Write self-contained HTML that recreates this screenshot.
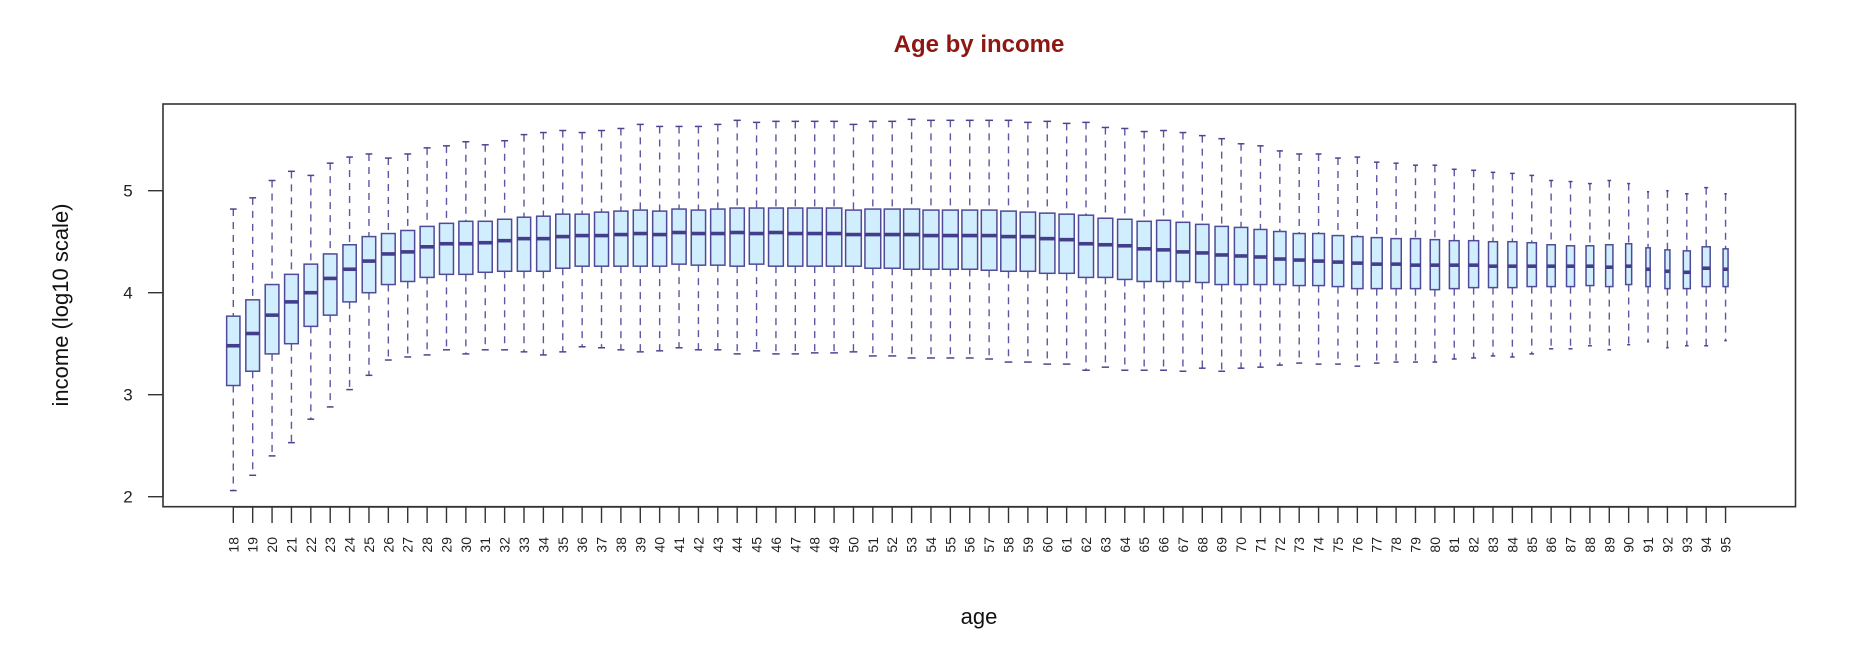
<!DOCTYPE html>
<html><head><meta charset="utf-8"><style>
html,body{margin:0;padding:0;background:#fff;}
svg{display:block;font-family:"Liberation Sans",Arial,sans-serif;}
</style></head><body>
<svg id="chart" width="1856" height="652" viewBox="0 0 1856 652" xmlns="http://www.w3.org/2000/svg">
<text x="979" y="52" text-anchor="middle" font-size="24" font-weight="bold" fill="#8e1713">Age by income</text>
<rect x="163" y="104" width="1632.5" height="402.7" fill="none" stroke="#333" stroke-width="1.6"/>
<text transform="translate(68,305) rotate(-90)" text-anchor="middle" font-size="22" fill="#111">income (log10 scale)</text>
<text x="979" y="624" text-anchor="middle" font-size="22" fill="#111">age</text>
<g id="yaxis"></g>
<g id="xaxis"></g>
<g id="boxes"></g>
</svg>
<script>
const ages = [];
for (let a = 18; a <= 95; a++) ages.push(a);
const whiskerHigh = [4.82,4.93,5.10,5.19,5.15,5.27,5.33,5.36,5.32,5.36,5.42,5.44,5.48,5.45,5.49,
5.55,5.57,5.59,5.57,5.59,5.61,5.65,5.63,5.63,5.63,5.65,5.69,5.67,5.68,5.68,5.68,5.68,
5.65,5.68,5.68,5.70,5.69,5.69,5.69,5.69,5.69,5.67,5.68,5.66,5.67,5.62,5.61,5.58,5.59,5.57,
5.54,5.51,5.46,5.44,5.39,5.36,5.36,5.32,5.33,5.28,5.27,5.25,5.25,5.21,5.20,
5.18,5.17,5.15,5.10,5.09,5.07,5.10,5.07,4.99,5.00,4.97,5.03,4.97];
const q3 = [3.77,3.93,4.08,4.18,4.28,4.38,4.47,4.55,4.58,4.61,4.65,4.68,4.70,4.70,4.72,
4.74,4.75,4.77,4.77,4.79,4.80,4.81,4.80,4.82,4.81,4.82,4.83,4.83,4.83,4.83,4.83,4.83,
4.81,4.82,4.82,4.82,4.81,4.81,4.81,4.81,4.80,4.79,4.78,4.77,4.76,4.73,4.72,4.70,4.71,4.69,
4.67,4.65,4.64,4.62,4.60,4.58,4.58,4.56,4.55,4.54,4.53,4.53,4.52,4.51,4.51,
4.50,4.50,4.49,4.47,4.46,4.46,4.47,4.48,4.44,4.42,4.41,4.45,4.43];
const medians = [3.48,3.60,3.78,3.91,4.00,4.14,4.23,4.31,4.38,4.40,4.45,4.48,4.48,4.49,4.51,
4.53,4.53,4.55,4.56,4.56,4.57,4.58,4.57,4.59,4.58,4.58,4.59,4.58,4.59,4.58,4.58,4.58,
4.57,4.57,4.57,4.57,4.56,4.56,4.56,4.56,4.55,4.55,4.53,4.52,4.48,4.47,4.46,4.43,4.42,4.40,
4.39,4.37,4.36,4.35,4.33,4.32,4.31,4.30,4.29,4.28,4.28,4.27,4.27,4.27,4.27,
4.26,4.26,4.26,4.26,4.26,4.26,4.25,4.26,4.23,4.21,4.20,4.24,4.23];
const q1 = [3.09,3.23,3.40,3.50,3.67,3.78,3.91,4.00,4.08,4.11,4.15,4.18,4.18,4.20,4.21,
4.21,4.21,4.24,4.26,4.26,4.26,4.26,4.26,4.28,4.27,4.27,4.26,4.28,4.26,4.26,4.26,4.26,
4.26,4.24,4.24,4.23,4.23,4.23,4.23,4.22,4.21,4.21,4.19,4.19,4.15,4.15,4.13,4.11,4.11,4.11,
4.10,4.08,4.08,4.08,4.08,4.07,4.07,4.06,4.04,4.04,4.04,4.04,4.03,4.04,4.05,
4.05,4.05,4.06,4.06,4.06,4.07,4.06,4.08,4.06,4.04,4.04,4.06,4.06];
const whiskerLow = [2.06,2.21,2.40,2.53,2.76,2.88,3.05,3.19,3.34,3.37,3.39,3.44,3.40,3.44,3.44,
3.42,3.39,3.42,3.47,3.46,3.44,3.42,3.43,3.46,3.44,3.44,3.40,3.43,3.40,3.40,3.41,3.41,
3.42,3.38,3.38,3.36,3.36,3.36,3.36,3.35,3.32,3.32,3.30,3.30,3.24,3.27,3.24,3.24,3.24,3.23,
3.26,3.23,3.26,3.27,3.29,3.31,3.30,3.30,3.28,3.31,3.32,3.32,3.32,3.35,3.36,
3.38,3.37,3.40,3.45,3.45,3.48,3.44,3.49,3.52,3.46,3.48,3.48,3.53];
const groupSize = [13.3,13.7,13.7,13.7,13.5,13.5,13.3,13.5,13.7,13.8,14,14,14,14,14,
13.3,13.5,14,14,14,14,14,14,14.2,14.3,14.3,14.3,14.5,14.8,15,15.2,15.4,
15.7,15.8,15.9,16,15.9,15.8,15.7,15.6,15.4,15.3,15.3,15.2,15,
14.7,14.4,14.1,13.9,13.6,13.3,13.3,13.3,12.8,12.3,12,11.7,11.5,11.3,11,10.3,10,9.3,9.7,10,
9,9,9.3,8.3,8,7.7,7.3,6,4.3,5,7,8,5];
const yTicks = [2,3,4,5];

const NS = "http://www.w3.org/2000/svg";
function mk(tag, attrs, parent){ const e=document.createElementNS(NS,tag); for(const k in attrs) e.setAttribute(k,attrs[k]); parent.appendChild(e); return e; }
const yScale = v => 496.7 - (v - 2) * 102;
const xScale = i => 233.3 + i * 19.38;

const yAxis = document.getElementById('yaxis');
mk('line',{x1:163,x2:163,y1:yScale(2),y2:yScale(5),stroke:'#333','stroke-width':1.4},yAxis);
yTicks.forEach(t=>{
  const tk = mk('line',{x1:148,x2:163,y1:yScale(t),y2:yScale(t),stroke:'#333','stroke-width':1.4},yAxis);
  
  
  const lb = mk('text',{x:128,y:yScale(t)+6,'text-anchor':'middle','font-size':17,fill:'#222'},yAxis);
  lb.textContent = t;
  
  
});

const xAxis = document.getElementById('xaxis');
mk('line',{x1:xScale(0),x2:xScale(ages.length-1),y1:507,y2:507,stroke:'#333','stroke-width':1.4},xAxis);
ages.forEach((a,i)=>{
  const x = xScale(i);
  const tk = mk('line',{x1:x,x2:x,y1:507,y2:523,stroke:'#333','stroke-width':1.4},xAxis);
  
  
  const lb = mk('text',{transform:`translate(${x+5},537) rotate(-90)`,'text-anchor':'end','font-size':14,fill:'#222'},xAxis);
  lb.textContent = a;
  
  
});

const boxes = document.getElementById('boxes');
ages.forEach((a,i)=>{
  const x = xScale(i), w = groupSize[i], cw = w/2;
  const g = mk('g',{},boxes);
  
  
  const wc = '#5c57a3';
  mk('line',{x1:x,x2:x,y1:yScale(whiskerHigh[i]),y2:yScale(q3[i]),stroke:wc,'stroke-width':1.4,'stroke-dasharray':'7,6'},g);
  mk('line',{x1:x,x2:x,y1:yScale(q1[i]),y2:yScale(whiskerLow[i]),stroke:wc,'stroke-width':1.4,'stroke-dasharray':'7,6'},g);
  mk('line',{x1:x-cw/2,x2:x+cw/2,y1:yScale(whiskerHigh[i]),y2:yScale(whiskerHigh[i]),stroke:'#4a4590','stroke-width':1.5},g);
  mk('line',{x1:x-cw/2,x2:x+cw/2,y1:yScale(whiskerLow[i]),y2:yScale(whiskerLow[i]),stroke:'#4a4590','stroke-width':1.5},g);
  mk('rect',{x:x-w/2,y:yScale(q3[i]),width:w,height:yScale(q1[i])-yScale(q3[i]),fill:'#d0eefd',stroke:'#4f4b98','stroke-width':1.5},g);
  mk('line',{x1:x-w/2,x2:x+w/2,y1:yScale(medians[i]),y2:yScale(medians[i]),stroke:'#433d8c','stroke-width':3.6},g);
});
</script>
</body></html>
